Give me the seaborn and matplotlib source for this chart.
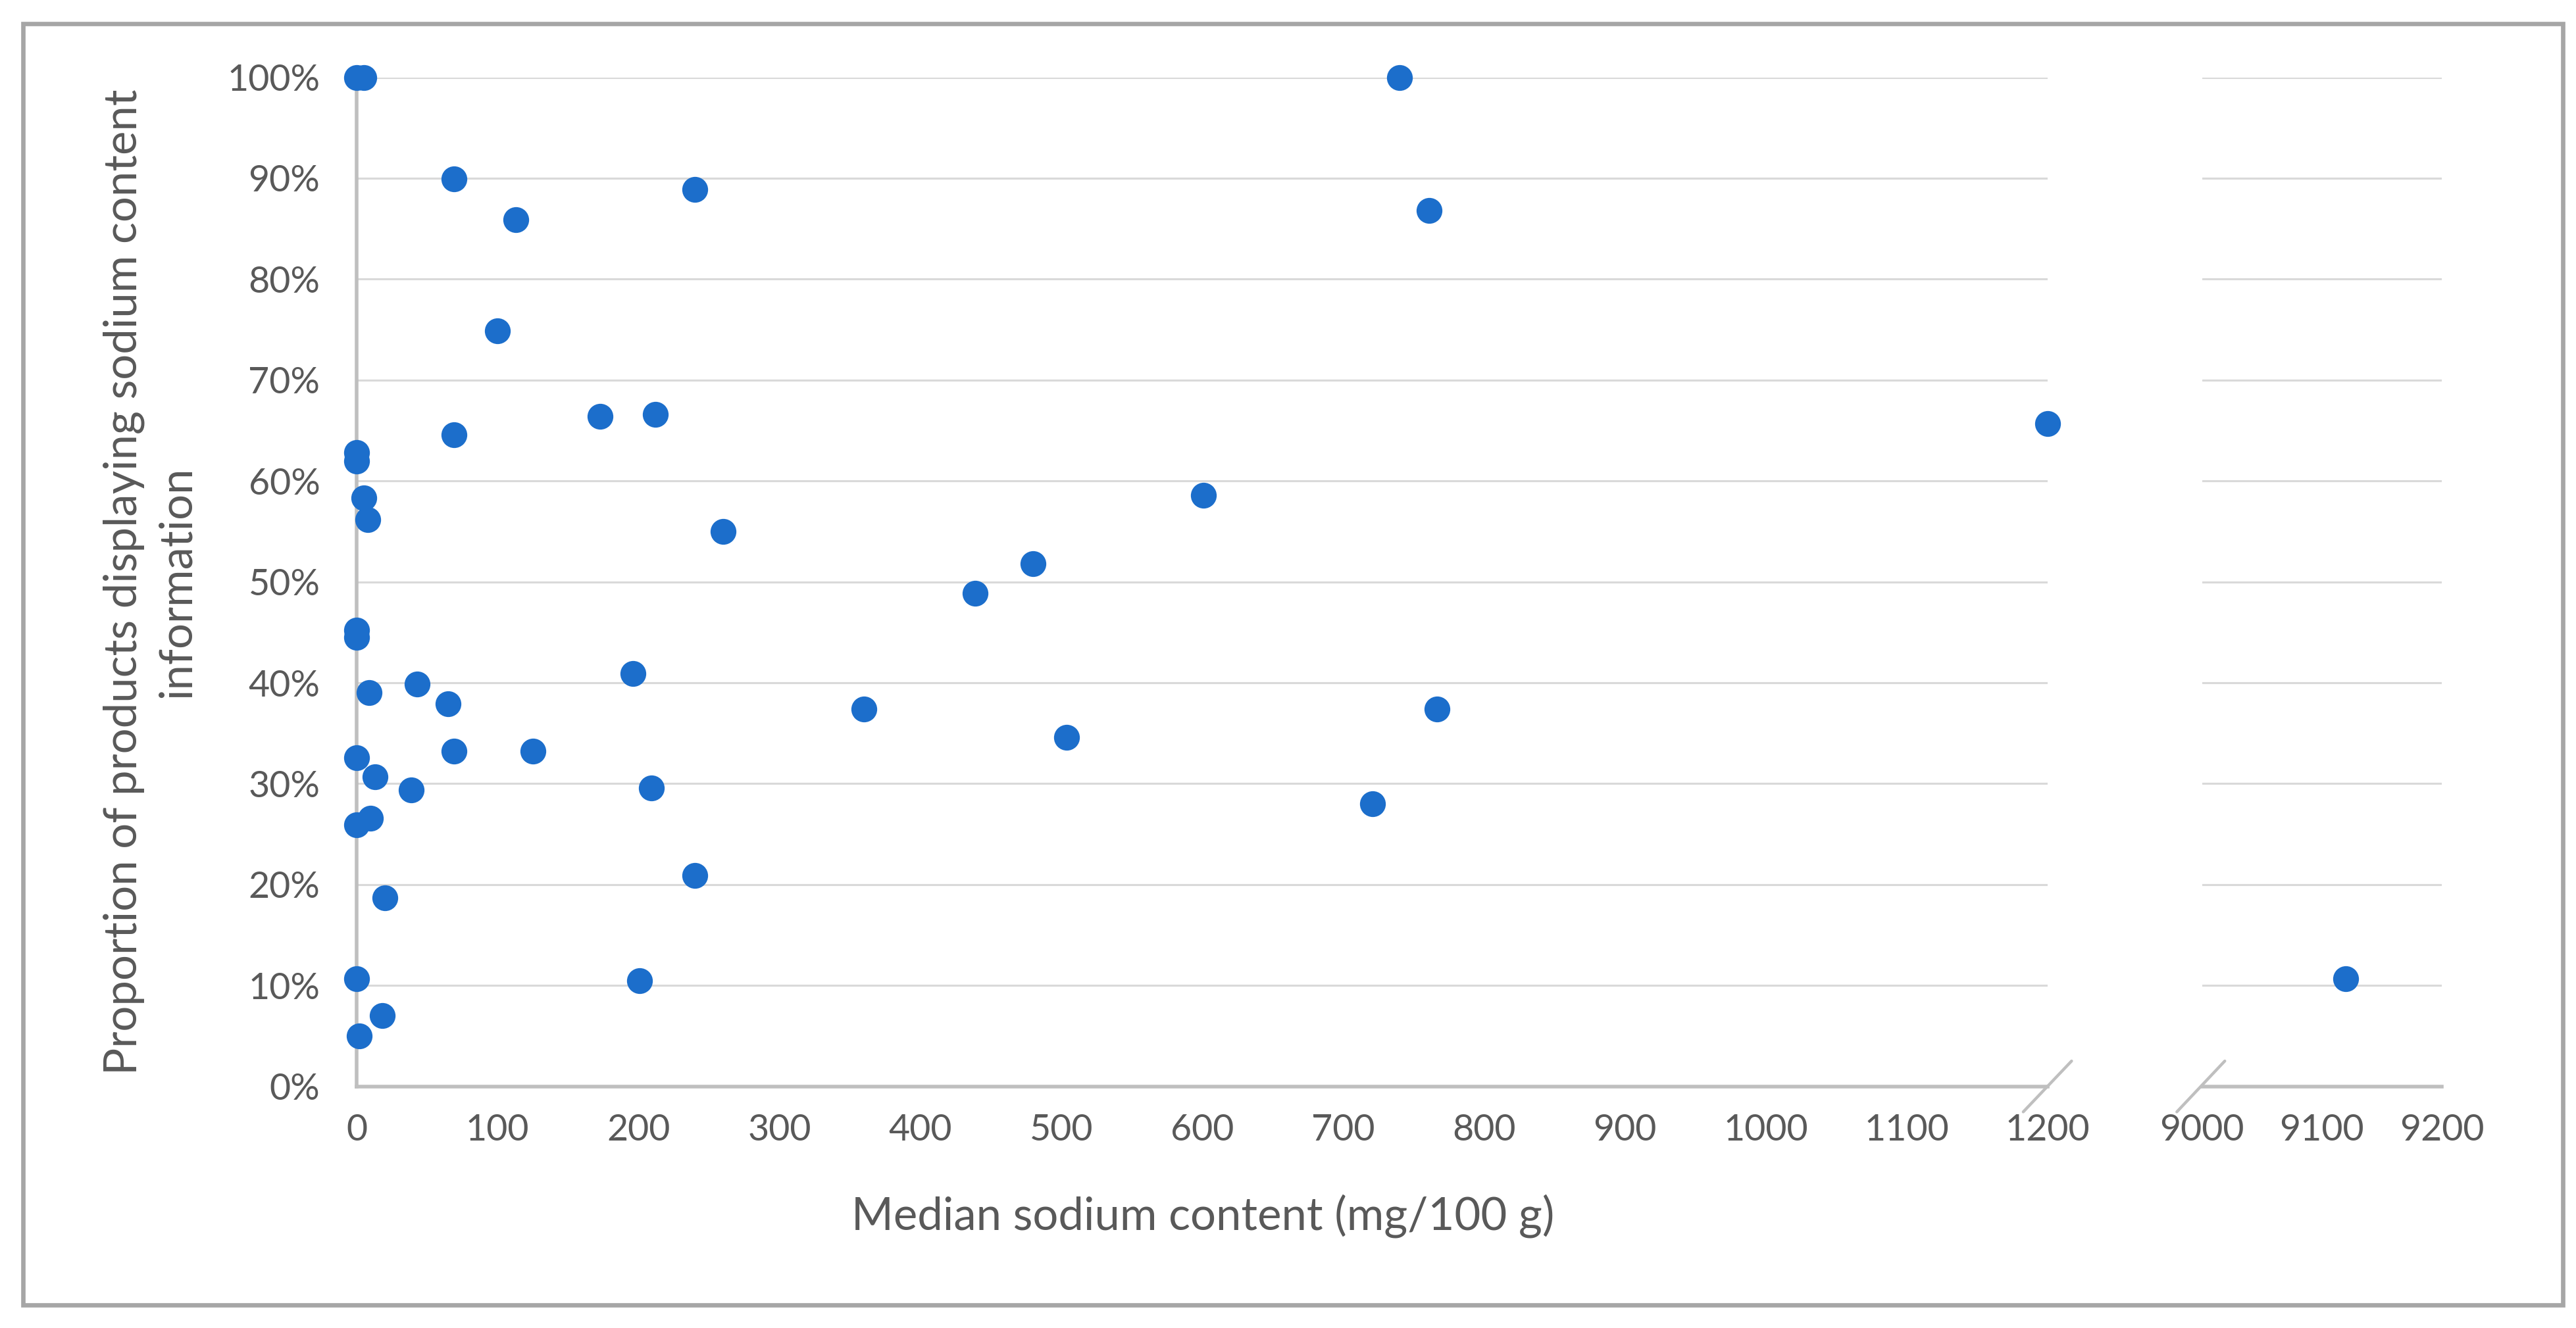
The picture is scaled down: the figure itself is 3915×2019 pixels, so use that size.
import matplotlib
matplotlib.use("Agg")
import matplotlib.pyplot as plt
import seaborn as sns
import pandas as pd
from matplotlib.ticker import PercentFormatter, FixedLocator
from matplotlib.patches import Rectangle

# ---------------- data ----------------
sodium_main = [0, 5, 69, 113, 240, 740, 761, 100, 173, 212, 69, 0, 0, 5, 8, 260,
               1200, 601, 480, 439, 0, 0, 9, 43, 65, 196, 360, 767, 69, 125, 504,
               0, 13, 39, 209, 721, 10, 0, 20, 240, 0, 201, 18, 2]
proportion_main = [100, 100, 89.9, 85.9, 88.9, 100, 86.8, 74.9, 66.4, 66.6, 64.6,
                   62.8, 62.0, 58.3, 56.2, 55.0, 65.7, 58.6, 51.8, 48.9, 45.2, 44.5,
                   39.0, 39.9, 37.9, 40.9, 37.4, 37.4, 33.2, 33.2, 34.6, 32.6, 30.7,
                   29.4, 29.6, 28.0, 26.6, 25.9, 18.7, 20.9, 10.7, 10.5, 7.0, 5.0]
sodium_outlier = [9120]
proportion_outlier = [10.7]

x_ticks_main = [0, 100, 200, 300, 400, 500, 600, 700, 800, 900, 1000, 1100, 1200]
x_ticks_outlier = [9000, 9100, 9200]
y_ticks = [0, 10, 20, 30, 40, 50, 60, 70, 80, 90, 100]

x_title = "Median sodium content (mg/100 g)"
y_title = "Proportion of products displaying sodium content\ninformation"

df_main = pd.DataFrame({"sodium": sodium_main, "proportion": proportion_main})
df_out = pd.DataFrame({"sodium": sodium_outlier, "proportion": proportion_outlier})

# ---------------- style ----------------
sns.set_theme(style="white")
plt.rcParams["font.family"] = ["Lato", "DejaVu Sans"]

BLUE = "#1C6ECB"
TXT = "#595959"
AXIS = "#BFBFBF"
GRID = "#D9D9D9"
TICK_FS = 20
TITLE_FS = 24.8

fig = plt.figure(figsize=(19.58, 10.095), dpi=200)
fig.patch.set_facecolor("white")

ax1 = fig.add_axes([0.1384, 0.1819, 0.6562, 0.7599])
ax2 = fig.add_axes([0.8546, 0.1819, 0.0931, 0.7599])

for ax, df in ((ax1, df_main), (ax2, df_out)):
    sns.scatterplot(data=df, x="sodium", y="proportion", ax=ax, color=BLUE,
                    s=200, linewidth=0, clip_on=False, zorder=5)
    ax.set_ylim(0, 100)
    ax.set_xlabel("")
    ax.set_ylabel("")
    ax.yaxis.set_major_locator(FixedLocator(y_ticks))
    ax.grid(axis="y", color=GRID, linewidth=1.1)
    ax.grid(axis="x", visible=False)
    ax.set_axisbelow(True)
    for sp in ("top", "right"):
        ax.spines[sp].set_visible(False)
    ax.spines["bottom"].set_color(AXIS)
    ax.spines["bottom"].set_linewidth(2.0)
    ax.tick_params(axis="both", length=0, labelsize=TICK_FS, colors=TXT)
    ax.tick_params(axis="x", pad=15)
    ax.set_facecolor("none")

ax1.set_xlim(0, 1200)
ax1.set_xticks(x_ticks_main)
ax1.yaxis.set_major_formatter(PercentFormatter(xmax=100, decimals=0))
ax1.tick_params(axis="y", pad=20)
ax1.spines["left"].set_color(AXIS)
ax1.spines["left"].set_linewidth(2.0)

ax2.set_xlim(9000, 9200)
ax2.set_xticks(x_ticks_outlier)
ax2.spines["left"].set_visible(False)
ax2.tick_params(axis="y", labelleft=False)

# axis break marks
kw = dict(color=AXIS, linewidth=1.6, clip_on=False)
dx1, dy = 0.0143, 0.0252
ax1.plot([1 - dx1, 1 + dx1], [-dy, dy], transform=ax1.transAxes, **kw)
dx2 = 0.1
ax2.plot([-0.005 - dx2, -0.005 + dx2], [-dy, dy], transform=ax2.transAxes, **kw)

# titles
fig.text(732 / 1568, 1 - 740 / 808, x_title, ha="center", va="center",
         fontsize=TITLE_FS, color=TXT)
fig.text(91.5 / 1568, 1 - 354 / 808, y_title, ha="center", va="center",
         rotation=90, fontsize=TITLE_FS, color=TXT, linespacing=1.35,
         multialignment="center")

# outer border
fig.patches.append(Rectangle((14 / 1568, 1 - 794 / 808), (1559.5 - 14) / 1568,
                             (794 - 14.5) / 808, transform=fig.transFigure,
                             fill=False, edgecolor="#A6A6A6", linewidth=2.4))

fig.savefig("out.png", dpi=200, facecolor="white")
